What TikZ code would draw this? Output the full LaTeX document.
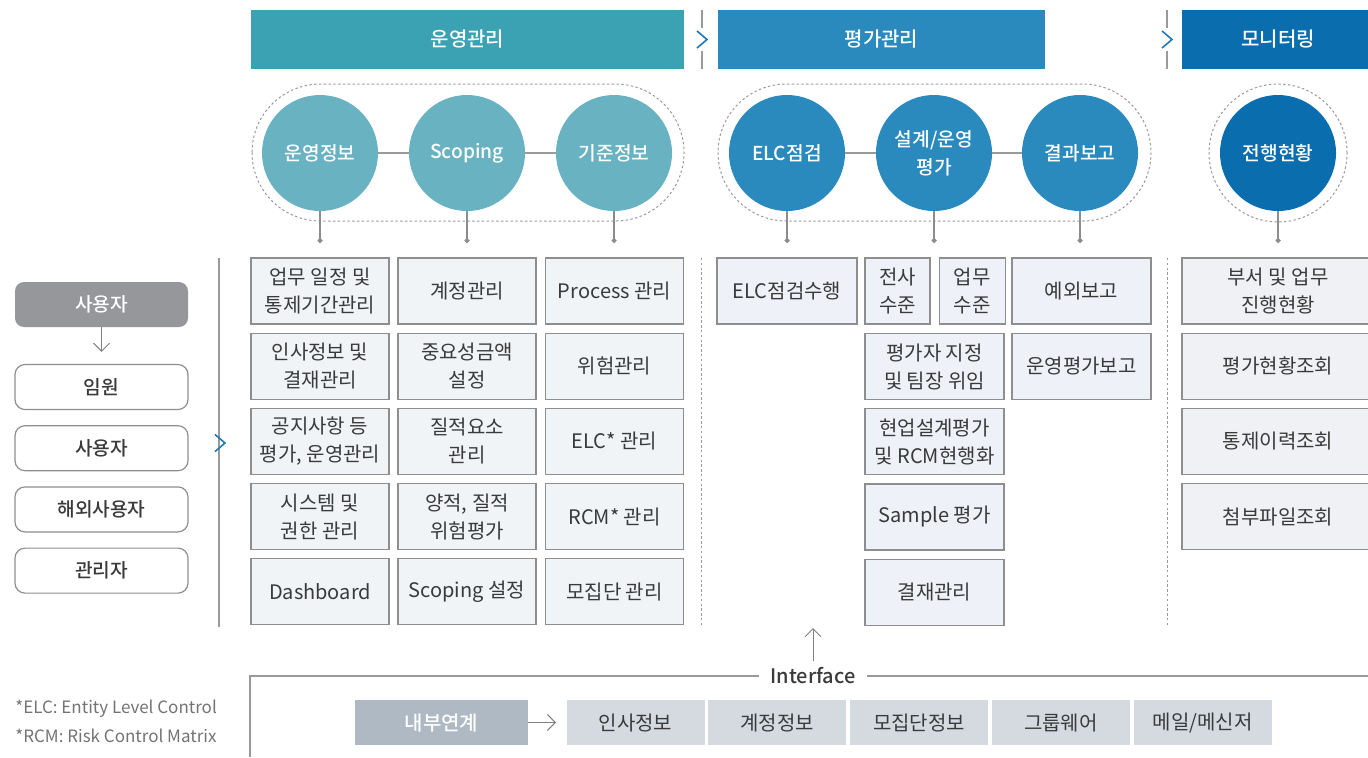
\documentclass[tikz,border=0pt]{standalone}
\usepackage{fontspec}
\setmainfont{Noto Sans CJK KR}[BoldFont={Noto Sans CJK KR Medium}]
\usetikzlibrary{positioning, arrows.meta}
\definecolor{opteal}{HTML}{3AA2B3}
\definecolor{opcircle}{HTML}{69B2C1}
\definecolor{evblue}{HTML}{2A89BD}
\definecolor{mondark}{HTML}{0A6EAE}
\definecolor{chevblue}{HTML}{1F78B8}
\definecolor{cellfill}{HTML}{F0F4F7}
\definecolor{evfill}{HTML}{EEF1F8}
\definecolor{monfill}{HTML}{EFF1F4}
\definecolor{cellline}{HTML}{8E8E8E}
\definecolor{usergrey}{HTML}{96979B}
\definecolor{linkgrey}{HTML}{AEB9C3}
\definecolor{sysfill}{HTML}{D4DAE0}
\definecolor{txt}{HTML}{3A3A3A}
\definecolor{rulegrey}{HTML}{9A9A9A}
\tikzset{
every node/.style={font=\fontsize{10}{14}\selectfont, text=txt, align=center}, % plain text in every box
head/.style={fill=#1, text=white, minimum height=29.5pt, inner sep=0pt, font=\fontsize{10}{14}\selectfont\bfseries}, % coloured bars on top
stage/.style={circle, fill=#1, text=white, minimum size=58pt, inner sep=0pt, font=\fontsize{9.6}{14}\selectfont\bfseries}, % the big discs
cell/.style={draw=cellline, line width=0.6pt, fill=#1, minimum width=69pt, minimum height=33pt, inner sep=2pt},
cell/.default=cellfill,
userhead/.style={fill=usergrey, text=white, rounded corners=4.5pt, minimum width=86.5pt, minimum height=22.5pt, font=\fontsize{9.6}{14}\selectfont\bfseries},
userbox/.style={draw=cellline, line width=0.6pt, fill=white, rounded corners=5pt, minimum width=86.5pt, minimum height=22.5pt, font=\fontsize{9.6}{14}\selectfont\bfseries},
linkhead/.style={fill=linkgrey, text=white, minimum width=86.5pt, minimum height=22.5pt, font=\fontsize{10}{14}\selectfont\bfseries},
sysbox/.style={fill=sysfill, minimum width=69pt, minimum height=22.5pt},
link/.style={draw=rulegrey, line width=0.8pt}, % lines between discs
drop/.style={draw=gray!90, line width=0.6pt, -{Circle[length=2.5pt]}},
openarrow/.style={draw=gray, line width=0.5pt, -{Straight Barb[length=4pt, width=8pt]}},
groupline/.style={draw=gray!80, line width=0.5pt, dash pattern=on 1.2pt off 1.2pt},
divider/.style={draw=rulegrey, line width=0.5pt, dash pattern=on 1.2pt off 1.2pt},
rule/.style={draw=rulegrey, line width=0.6pt},
note/.style={font=\fontsize{8.5}{12}\selectfont, text=gray!90!black, anchor=west, inner xsep=0pt},
chevron/.pic={\draw[chevblue, line width=0.8pt] (-5,-8.5) -- (5,0) -- (-5,8.5);},
}

\begin{document}
\begin{tikzpicture}[x=0.5pt, y=-0.5pt]
\useasboundingbox (0,0) rectangle (1368,757);

% top bars
\node[head=opteal, minimum width=216.5pt] (op) at (467.5,39.5) {운영관리};
\node[head=evblue, minimum width=163.5pt] (ev) at (881.5,39.5) {평가관리};
\node[head=mondark, minimum width=96pt] (mon) at (1278,39.5) {모니터링};
\draw[rule] (702,10) -- (702,28) (702,51) -- (702,69);
\draw[rule] (1167,10) -- (1167,28) (1167,51) -- (1167,69);
\pic at (702,39.5) {chevron};
\pic at (1167,39.5) {chevron};

% discs
\draw[groupline, rounded corners=34.25pt] (252,84) rectangle (684,221);
\draw[groupline, rounded corners=34.25pt] (718,84) rectangle (1151,221);
\draw[groupline] (1278,153) circle (34.5pt);
\node[stage=opcircle] (c1) at (320,153) {운영정보};
\node[stage=opcircle] (c2) at (467,153) {Scoping};
\node[stage=opcircle] (c3) at (614,153) {기준정보};
\node[stage=evblue] (c4) at (787,153) {ELC점검};
\node[stage=evblue] (c5) at (934,153) {설계/운영\\평가};
\node[stage=evblue] (c6) at (1080,153) {결과보고};
\node[stage=mondark] (c7) at (1278,153) {전행현황};
\path[link] (c1) -- (c2) (c2) -- (c3) (c4) -- (c5) (c5) -- (c6);
\coordinate (d1) at (320,243);
\coordinate (d2) at (467,243);
\coordinate (d3) at (614,243);
\coordinate (d4) at (787,243);
\coordinate (d5) at (934,243);
\coordinate (d6) at (1080,243);
\coordinate (d7) at (1278,243);
\draw[drop] (c1) -- (d1);
\draw[drop] (c2) -- (d2);
\draw[drop] (c3) -- (d3);
\draw[drop] (c4) -- (d4);
\draw[drop] (c5) -- (d5);
\draw[drop] (c6) -- (d6);
\draw[drop] (c7) -- (d7);

% users
\node[userhead] (u0) at (101.5,304.5) {사용자};
\node[userbox] (u1) at (101.5,387) {임원};
\node[userbox, below=7.5pt of u1] (u2) {사용자};
\node[userbox, below=7.5pt of u2] (u3) {해외사용자};
\node[userbox, below=7.5pt of u3] (u4) {관리자};
\draw[openarrow, shorten >=6pt] (u0) -- (u1);
\draw[rule] (219,258) -- (219,627);
\pic at (220,443) {chevron};

% 운영관리 cells
\node[cell] (a1) at (320,291) {업무 일정 및\\통제기간관리};
\node[cell, below=4pt of a1] (a2) {인사정보 및\\결재관리};
\node[cell, below=4pt of a2] (a3) {공지사항 등\\평가, 운영관리};
\node[cell, below=4pt of a3] (a4) {시스템 및\\권한 관리};
\node[cell, below=4pt of a4] (a5) {Dashboard};
\node[cell] (b1) at (467,291) {계정관리};
\node[cell, below=4pt of b1] (b2) {중요성금액\\설정};
\node[cell, below=4pt of b2] (b3) {질적요소\\관리};
\node[cell, below=4pt of b3] (b4) {양적, 질적\\위험평가};
\node[cell, below=4pt of b4] (b5) {Scoping 설정};
\node[cell] (k1) at (614.5,291) {Process 관리};
\node[cell, below=4pt of k1] (k2) {위험관리};
\node[cell, below=4pt of k2] (k3) {ELC* 관리};
\node[cell, below=4pt of k3] (k4) {RCM* 관리};
\node[cell, below=4pt of k4] (k5) {모집단 관리};
\draw[divider] (701,258) -- (701,627);

% 평가관리 cells
\node[cell=evfill, minimum width=70pt] (e1) at (787,291) {ELC점검수행};
\node[cell=evfill, minimum width=32.5pt] (e2) at (897.5,291) {전사\\수준};
\node[cell=evfill, minimum width=33pt, right=4pt of e2] (e3) {업무\\수준};
\node[cell=evfill, minimum width=69.5pt] (e4) at (1081.5,291) {예외보고};
\node[cell=evfill, minimum width=69.5pt] (e5) at (934.5,366.5) {평가자 지정\\및 팀장 위임};
\node[cell=evfill, minimum width=69.5pt, below=4pt of e5] (e6) {현업설계평가\\및 RCM현행화};
\node[cell=evfill, minimum width=69.5pt, below=4pt of e6] (e7) {Sample 평가};
\node[cell=evfill, minimum width=69.5pt, below=4pt of e7] (e8) {결재관리};
\node[cell=evfill, minimum width=69.5pt, below=4pt of e4] (e9) {운영평가보고};
\draw[divider] (1167,258) -- (1167,627);

% 모니터링 cells
\node[cell=monfill, minimum width=96pt] (m1) at (1278,291) {부서 및 업무\\진행현황};
\node[cell=monfill, minimum width=96pt, below=4pt of m1] (m2) {평가현황조회};
\node[cell=monfill, minimum width=96pt, below=4pt of m2] (m3) {통제이력조회};
\node[cell=monfill, minimum width=96pt, below=4pt of m3] (m4) {첨부파일조회};

% interface
\node[font=\fontsize{10}{14}\selectfont\bfseries, inner xsep=5.5pt] (iface) at (813,676) {Interface};
\coordinate (gb) at (813,628);
\coordinate (fr) at (1374,676);
\draw[openarrow] (iface) -- (gb);
\draw[rule] (250,757) |- (iface.west);
\draw[rule] (iface.east) -- (fr);
\node[linkhead] (lk) at (441.5,722.5) {내부연계};
\node[sysbox] (s1) at (635.5,722.5) {인사정보};
\node[sysbox, right=1.5pt of s1] (s2) {계정정보};
\node[sysbox, right=1.5pt of s2] (s3) {모집단정보};
\node[sysbox, right=1.5pt of s3] (s4) {그룹웨어};
\node[sysbox, right=1.5pt of s4] (s5) {메일/메신저};
\draw[openarrow, shorten >=5pt] (lk) -- (s1);

\node[note] (n1) at (15,709) {*ELC: Entity Level Control};
\node[note] (n2) at (15,736) {*RCM: Risk Control Matrix};
\end{tikzpicture}
\end{document}
